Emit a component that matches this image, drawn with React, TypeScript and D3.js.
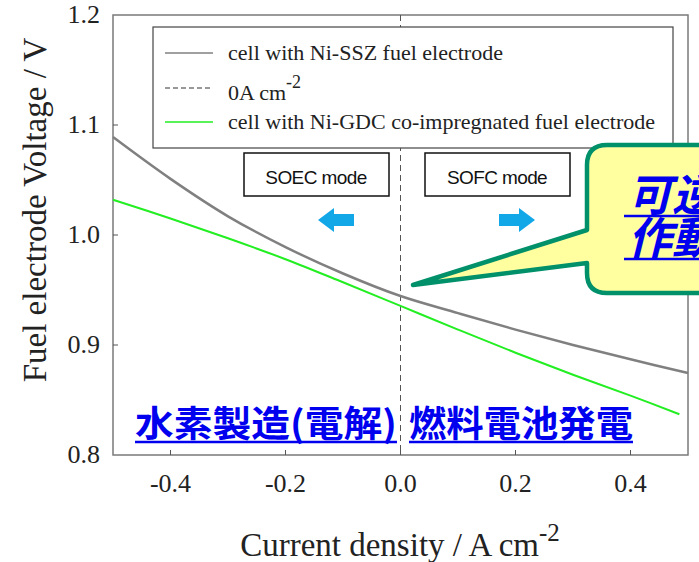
import React, { useEffect, useRef } from 'react';
import * as d3 from 'd3';

// current density (A cm-2) and fuel electrode voltage (V)
const ssZCurrent = [-0.5, -0.4, -0.3, -0.2, -0.1, 0.0, 0.1, 0.2, 0.3, 0.4, 0.5];
const ssZVoltage = [1.089, 1.051, 1.017, 0.989, 0.965, 0.9445, 0.929, 0.914, 0.9, 0.887, 0.8745];

const gdcCurrent = [-0.5, -0.4, -0.3, -0.2, -0.1, 0.0, 0.1, 0.2, 0.3, 0.4, 0.485];
const gdcVoltage = [1.032, 1.015, 0.997, 0.978, 0.957, 0.9355, 0.914, 0.893, 0.873, 0.854, 0.837];

const xTicks = [-0.4, -0.2, 0.0, 0.2, 0.4];
const yTicks = [0.8, 0.9, 1.0, 1.1, 1.2];

const legendLabels = [
  'cell with Ni-SSZ fuel electrode',
  '0A cm',
  'cell with Ni-GDC co-impregnated fuel electrode',
];

const serif = '"Liberation Serif", "DejaVu Serif", serif';
const sans = '"Liberation Sans", Arial, sans-serif';
const cjk = '"Noto Sans CJK JP", "Noto Sans CJK SC", sans-serif';

function App() {
  const ref = useRef<SVGSVGElement>(null);

  useEffect(() => {
    const svg = d3.select(ref.current);
    svg.selectAll('*').remove();

    const margin = { top: 15, left: 113, right: 11, bottom: 107 };
    const width = 699;
    const height = 562;

    const x = d3.scaleLinear().domain([-0.5, 0.5]).range([margin.left, width - margin.right]);
    const y = d3.scaleLinear().domain([0.8, 1.2]).range([height - margin.bottom, margin.top]);
    const fmt = (d: number) => d3.format('.1f')(d).replace('\u2212', '-');

    // frame
    svg.append('rect')
      .attr('x', x(-0.5)).attr('y', y(1.2))
      .attr('width', x(0.5) - x(-0.5)).attr('height', y(0.8) - y(1.2))
      .attr('fill', 'none').attr('stroke', '#7a7a7a').attr('stroke-width', 1.5);

    // ticks pointing inward
    svg.selectAll('.xt').data(xTicks).enter().append('line')
      .attr('x1', d => x(d)).attr('x2', d => x(d))
      .attr('y1', y(0.8)).attr('y2', y(0.8) - 5)
      .attr('stroke', '#555').attr('stroke-width', 1);
    svg.selectAll('.yt').data(yTicks.slice(1, -1)).enter().append('line')
      .attr('x1', x(-0.5)).attr('x2', x(-0.5) + 5)
      .attr('y1', d => y(d)).attr('y2', d => y(d))
      .attr('stroke', '#555').attr('stroke-width', 1);

    svg.selectAll('.xl').data(xTicks).enter().append('text')
      .attr('x', d => x(d)).attr('y', y(0.8) + 37)
      .attr('text-anchor', 'middle')
      .style('font-family', serif).style('font-size', '26px').attr('fill', '#222')
      .text(d => fmt(d));
    svg.selectAll('.yl').data(yTicks).enter().append('text')
      .attr('x', 100).attr('y', d => y(d) + 8)
      .attr('text-anchor', 'end')
      .style('font-family', serif).style('font-size', '26px').attr('fill', '#222')
      .text(d => fmt(d));

    // axis titles
    const xt = svg.append('text')
      .attr('x', 400).attr('y', 556).attr('text-anchor', 'middle')
      .style('font-family', serif).style('font-size', '33px').attr('fill', '#222');
    xt.append('tspan').text('Current density / A cm');
    xt.append('tspan').attr('dy', -15).style('font-size', '25px').text('-2');

    svg.append('text')
      .attr('transform', 'translate(46,210) rotate(-90)')
      .attr('text-anchor', 'middle')
      .style('font-family', serif).style('font-size', '33px').attr('fill', '#222')
      .text('Fuel electrode Voltage / V');

    // 0 A cm-2 line
    svg.append('line')
      .attr('x1', x(0)).attr('x2', x(0)).attr('y1', y(1.2)).attr('y2', y(0.8))
      .attr('stroke', '#555').attr('stroke-width', 1).attr('stroke-dasharray', '6,4');

    const line = d3.line<number>().curve(d3.curveCatmullRom.alpha(0.5));

    svg.append('path')
      .attr('d', line.x(d => x(d)).y((d, i) => y(ssZVoltage[i]))(ssZCurrent))
      .attr('fill', 'none').attr('stroke', '#808080').attr('stroke-width', 2.5);
    svg.append('path')
      .attr('d', line.x(d => x(d)).y((d, i) => y(gdcVoltage[i]))(gdcCurrent))
      .attr('fill', 'none').attr('stroke', '#22ee22').attr('stroke-width', 2);

    // legend
    svg.append('rect')
      .attr('x', 153).attr('y', 27).attr('width', 520).attr('height', 121)
      .attr('fill', 'white').attr('stroke', '#444').attr('stroke-width', 1.2);
    const legendStyle = [
      { stroke: '#808080', dash: null, w: 1.5 },
      { stroke: '#333', dash: '5,3', w: 1 },
      { stroke: '#22ee22', dash: null, w: 1.5 },
    ];
    const ly = [53, 88, 122];
    legendLabels.forEach((label, i) => {
      svg.append('line')
        .attr('x1', 165).attr('x2', 213).attr('y1', ly[i]).attr('y2', ly[i])
        .attr('stroke', legendStyle[i].stroke).attr('stroke-width', legendStyle[i].w)
        .attr('stroke-dasharray', legendStyle[i].dash);
      const t = svg.append('text')
        .attr('x', 228).attr('y', ly[i] + 7)
        .style('font-family', serif).style('font-size', '22px').attr('fill', '#222');
      t.append('tspan').text(label);
      if (i === 1) {
        t.attr('y', ly[i] + 12);
        t.append('tspan').attr('dy', -12).style('font-size', '18px').text('-2');
      }
    });

    // mode boxes
    const modes = [
      { label: 'SOEC mode', x0: 244, dir: -1 },
      { label: 'SOFC mode', x0: 425, dir: 1 },
    ];
    modes.forEach(m => {
      svg.append('rect')
        .attr('x', m.x0).attr('y', 153).attr('width', 145).attr('height', 43)
        .attr('fill', 'white').attr('stroke', '#111').attr('stroke-width', 1.5);
      svg.append('text')
        .attr('x', m.x0 + 72).attr('y', 184).attr('text-anchor', 'middle')
        .style('font-family', sans).style('font-size', '19px').style('letter-spacing', '-0.6px')
        .attr('fill', '#111').text(m.label);
      const cx = m.x0 + 92;
      const d = m.dir;
      const pts: [number, number][] = [
        [cx - d * 18, 214], [cx + d * 2, 214], [cx + d * 2, 208], [cx + d * 18, 220],
        [cx + d * 2, 232], [cx + d * 2, 226], [cx - d * 18, 226],
      ];
      svg.append('polygon')
        .attr('points', pts.map(p => p.join(',')).join(' '))
        .attr('fill', '#12a8e8');
    });

    // callout
    svg.append('path')
      .attr('d', 'M607,145 H760 V293 H607 Q587,293 587,273 V263 L413,285 L587,230 V165 Q587,145 607,145 Z')
      .attr('fill', '#ffffa0').attr('stroke', '#00906a').attr('stroke-width', 4.5)
      .attr('stroke-linejoin', 'round');
    [['可逆', 211, 216], ['作動', 254, 259]].forEach(([txt, by, uy]) => {
      svg.append('text')
        .attr('x', 628).attr('y', by as number)
        .style('font-family', cjk).style('font-size', '44px').style('font-weight', 'bold')
        .style('font-style', 'italic').attr('fill', '#0000ee').text(txt as string);
      svg.append('line')
        .attr('x1', 624).attr('x2', 720).attr('y1', uy as number).attr('y2', uy as number)
        .attr('stroke', '#0000ee').attr('stroke-width', 2.5);
    });

    // mode labels in Japanese
    const jp = [
      { text: '水素製造(電解)', x0: 135, w: 262 },
      { text: '燃料電池発電', x0: 409, w: 224 },
    ];
    jp.forEach(j => {
      svg.append('text')
        .attr('x', j.x0).attr('y', 437)
        .attr('textLength', j.w).attr('lengthAdjust', 'spacingAndGlyphs')
        .style('font-family', cjk).style('font-size', '36px').style('font-weight', 'bold')
        .attr('fill', '#0000ee').text(j.text);
      svg.append('line')
        .attr('x1', j.x0).attr('x2', j.x0 + j.w).attr('y1', 442).attr('y2', 442)
        .attr('stroke', '#0000ee').attr('stroke-width', 2.5);
    });
  }, []);

  return (
    <svg ref={ref} width={699} height={562}
      style={{ position: 'absolute', left: 0, top: 0, background: 'white' }} />
  );
}

export default App;
